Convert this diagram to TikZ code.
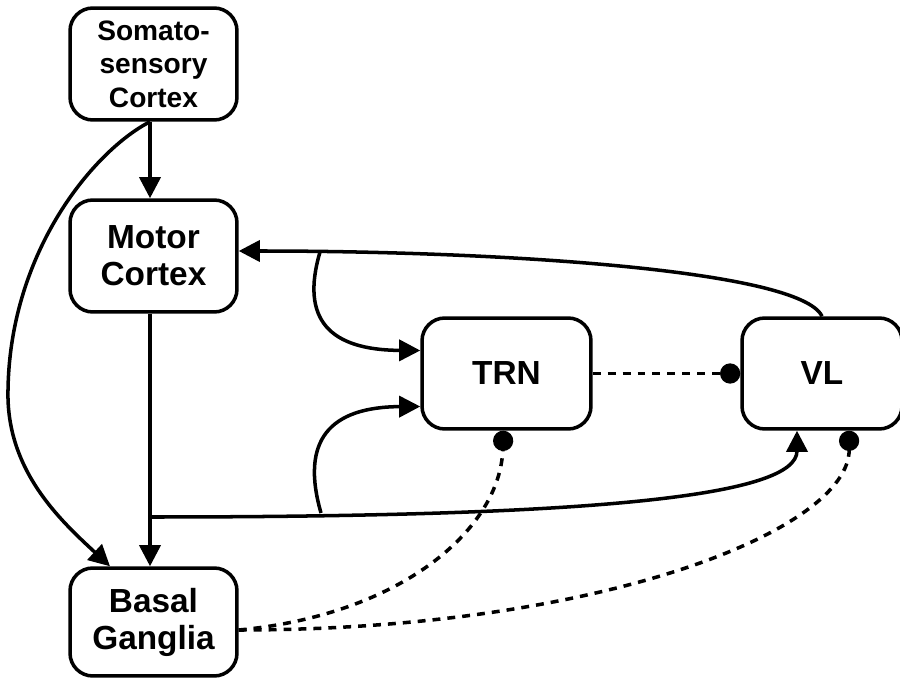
\documentclass[tikz,border=0pt]{standalone}
\usepackage{fontspec}
\setmainfont{Liberation Sans}
\usepackage{tikz}
\usetikzlibrary{calc}
\usetikzlibrary{arrows.meta}
\tikzset{>={Triangle[length=12pt, width=12pt]}}
\tikzstyle{region} = [rectangle, draw, line width=2pt, rounded corners=13pt, align=center, inner sep=0, font=\bfseries\fontsize{19}{21}\selectfont, minimum width=3.34cm, minimum height=2.24cm]
\tikzstyle{inh} = [-{Circle[length=11.5pt]}, dash pattern=on 4.5pt off 4pt]

\begin{document}
\begin{tikzpicture}[x=0.02cm, y=-0.02cm, line width=2pt]
\useasboundingbox (0,0) rectangle (900,682);
\node [region, font=\bfseries\fontsize{16}{19}\selectfont] (SC) at (153.5, 64) {Somato-\\sensory\\Cortex};
\node [region] (MC) at (153.5, 256) {Motor\\Cortex};
\node [region, minimum height=2.16cm] (BG) at (153.5, 622) {Basal\\Ganglia};
\node [region, minimum width=3.38cm, minimum height=2.22cm] (TRN) at (506.5, 373.5) {TRN};
\node [region, minimum width=3.2cm, minimum height=2.22cm] (VL) at (822, 373.5) {VL};
% branch points
\coordinate (b0) at (150, 517);
\coordinate (b1) at (320, 252);
\coordinate (b2) at (321, 513);
\draw [->] ([xshift=-0.07cm]SC.south) -- ([xshift=-0.07cm]MC.north);
\draw [->] ([xshift=-0.07cm]MC.south) -- ([xshift=-0.07cm]BG.north);
\draw [->] ([xshift=-0.07cm]SC.south) .. controls (95,150) and (10,250) .. (8,390) .. controls (6,470) and (60,520) .. ($(BG.north)+(-43.5,0)$);
\draw [->] (b0) .. controls (600,517) and ($(VL.south)+(-25,65)$) .. ($(VL.south)+(-25,0)$);
\draw [->] (b2) .. controls (300,440) and (330,407) .. ($(TRN.west)+(0,33)$);
\draw [->] (b1) .. controls (300,320) and (330,350) .. ($(TRN.west)+(0,-23)$);
\draw [->] (VL.north) .. controls (800,270) and (500,251) .. ($(MC.east)+(0,-5)$);
\draw [inh] (TRN.east) -- (VL.west);
\draw [inh] ($(BG.east)+(0,8)$) .. controls (400,615) and (500,530) .. ($(TRN.south)+(-3,0)$);
\draw [inh] ($(BG.east)+(0,8)$) .. controls (600,630) and (850,530) .. ($(VL.south)+(27,0)$);
\end{tikzpicture}
\end{document}
